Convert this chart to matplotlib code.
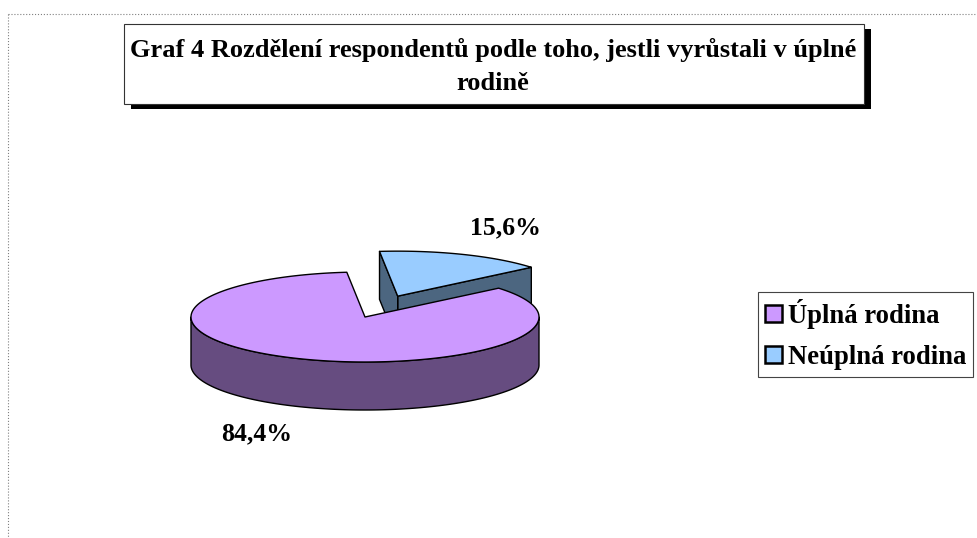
import numpy as np
import matplotlib.pyplot as plt
from matplotlib.patches import Polygon, Rectangle, Patch

## data
categories = ["Úplná rodina", "Neúplná rodina"]
shares = [84.4, 15.6]
explode = [0.0, 0.5]
top_colors = ["#CC99FF", "#99CCFF"]
side_colors = ["#664C80", "#4C6680"]
title = "Graf 4 Rozdělení respondentů podle toho, jestli vyrůstali v úplné\nrodině"

plt.rcParams['font.family'] = ['Liberation Serif', 'DejaVu Serif']
plt.rcParams['font.weight'] = 'bold'

fig = plt.figure(figsize=(9.78, 5.38), dpi=100)
ax = fig.add_axes([0, 0, 1, 1])
ax.set_xlim(0, 978)
ax.set_ylim(538, 0)
ax.axis('off')

# pie layout (pixel units)
cx, cy, rx, ry, depth = 365, 317, 174, 45, 48
start = 96
lw = 1.0


def pt(x0, y0, a, r=1.0):
    return x0 + r * rx * np.cos(np.radians(a)), y0 - r * ry * np.sin(np.radians(a))


total = sum(shares)
spans = [360.0 * v / total for v in shares]
starts = start + np.cumsum([0] + spans[:-1])

slices = []
for i in range(len(shares)):
    a1 = starts[i]
    a2 = a1 + spans[i]
    mid = (a1 + a2) / 2
    ox, oy = pt(cx, cy, mid, explode[i])
    slices.append((i, a1, a2, mid, ox, oy))

# back slices first
slices.sort(key=lambda s: -np.sin(np.radians(s[3])))

for i, a1, a2, mid, ox, oy in slices:
    # radial faces
    for a, vis in ((a1, np.cos(np.radians(a1)) > 0), (a2, np.cos(np.radians(a2)) < 0)):
        if vis:
            ex, ey = pt(ox, oy, a)
            ax.add_patch(Polygon([(ox, oy), (ex, ey), (ex, ey + depth), (ox, oy + depth)],
                                 closed=True, facecolor=side_colors[i], edgecolor='black',
                                 lw=lw, joinstyle='round'))
    # outer front side
    for k in range(-1, 3):
        lo = max(a1, 180 + 360 * k)
        hi = min(a2, 360 + 360 * k)
        if lo < hi:
            th = np.linspace(lo, hi, 200)
            xs, ys = pt(ox, oy, th)
            verts = list(zip(xs, ys)) + list(zip(xs[::-1], ys[::-1] + depth))
            ax.add_patch(Polygon(verts, closed=True, facecolor=side_colors[i],
                                 edgecolor='black', lw=lw, joinstyle='round'))
    # top face
    th = np.linspace(a1, a2, 300)
    xs, ys = pt(ox, oy, th)
    verts = [(ox, oy)] + list(zip(xs, ys))
    ax.add_patch(Polygon(verts, closed=True, facecolor=top_colors[i], edgecolor='black',
                         lw=lw, joinstyle='round'))
    # data label
    lx, ly = pt(ox, oy, mid, 1.65)
    if np.sin(np.radians(mid)) < 0:
        ly += depth
    ax.text(lx, ly, f"{shares[i]:.1f}%".replace('.', ','), ha='center', va='center',
            fontsize=18.5, fontweight='bold')

# title box with shadow
ax.add_patch(Rectangle((131, 29), 740, 80, facecolor='black', edgecolor='none'))
ax.add_patch(Rectangle((124, 24), 740, 80, facecolor='white', edgecolor='#333333', lw=0.8))
for j, line in enumerate(title.split('\n')):
    ax.text(493, 57 + 33 * j, line, ha='center', va='baseline', fontsize=19,
            fontweight='bold')

# legend
handles = [Patch(facecolor=top_colors[i], edgecolor='black', lw=1.8) for i in range(len(categories))]
leg = fig.legend(handles, categories, loc='upper left',
                 bbox_to_anchor=(758 / 978, 1 - 292 / 538),
                 prop={'family': 'Liberation Serif', 'weight': 'bold', 'size': 19.2},
                 fancybox=False, frameon=True, edgecolor='#444444', framealpha=1,
                 handlelength=0.62, handleheight=0.62, handletextpad=0.22,
                 borderpad=0.27, labelspacing=0.6, borderaxespad=0)
leg.get_frame().set_linewidth(0.8)

# dotted page border
ax.plot([8, 978], [14, 14], ls=':', color='gray', lw=0.8)
ax.plot([8, 8], [14, 538], ls=':', color='gray', lw=0.8)

plt.savefig('out.png', dpi=100)
